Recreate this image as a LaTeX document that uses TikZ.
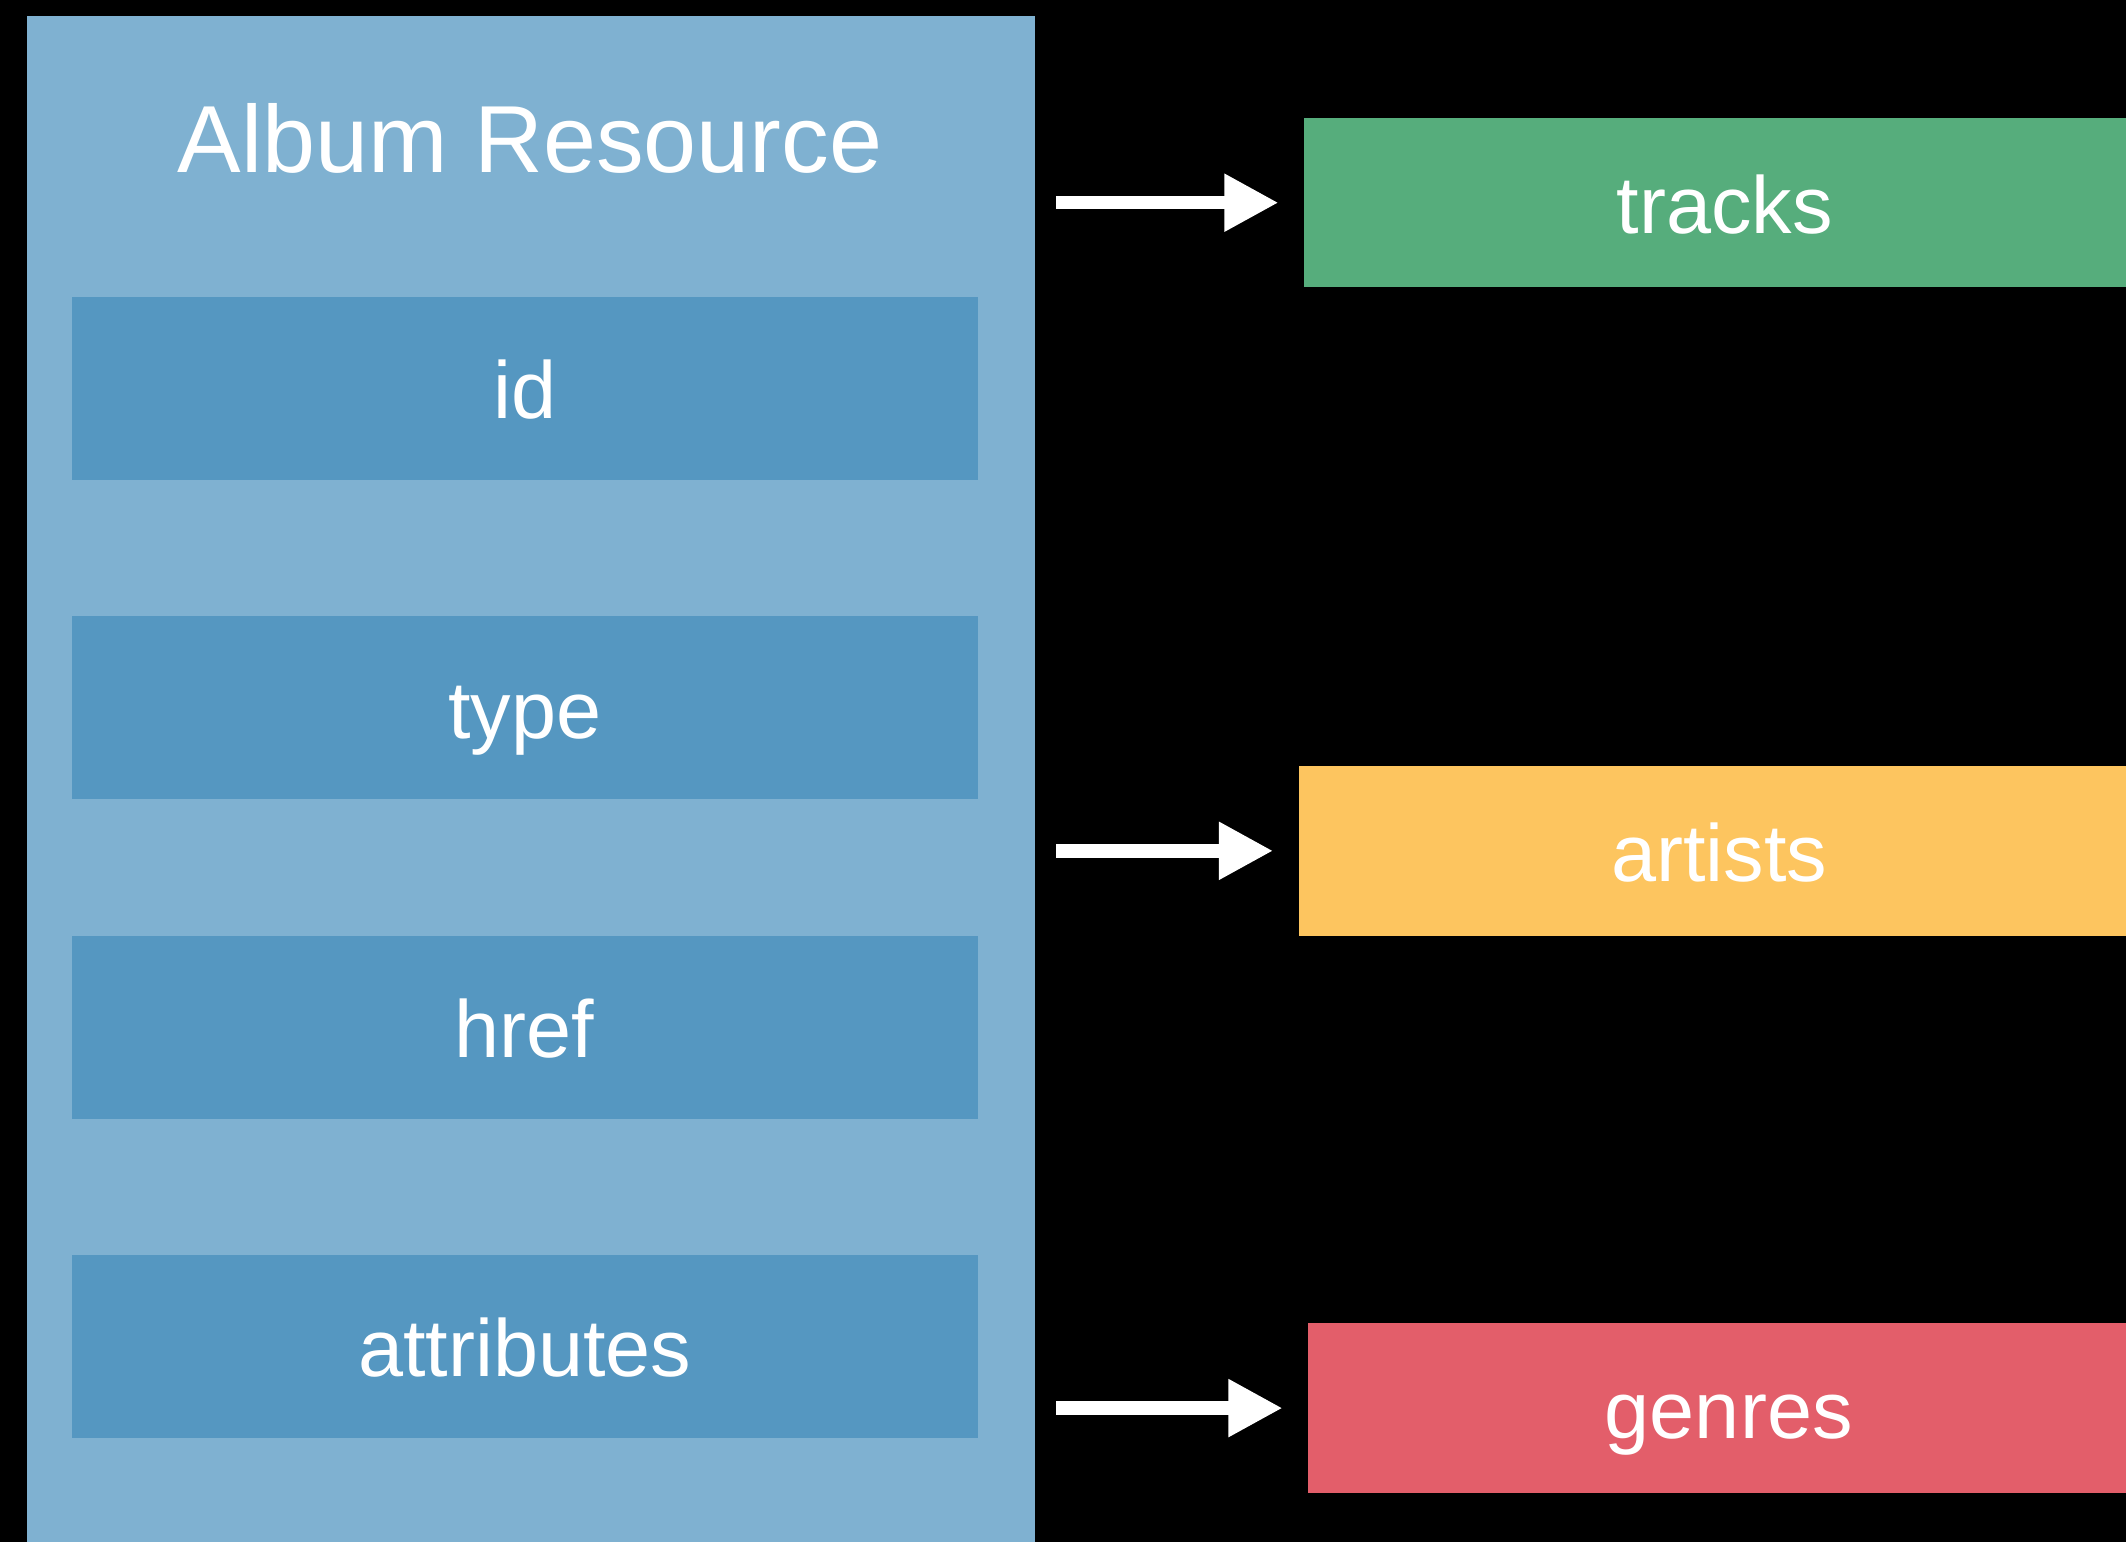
\documentclass[tikz,border=0pt]{standalone}
\usepackage{fontspec}
\setmainfont{Liberation Sans}
\usepackage{tikz}
\usetikzlibrary{arrows.meta,positioning}

\definecolor{panelblue}{RGB}{127,177,209}
\definecolor{fieldblue}{RGB}{85,151,193}
\definecolor{relgreen}{RGB}{86,173,124}
\definecolor{relyellow}{RGB}{253,197,95}
\definecolor{relred}{RGB}{227,94,106}

\begin{document}
\begin{tikzpicture}[
    field/.style={fill=fieldblue,minimum width=6.68cm,minimum height=1.35cm,
                  text height=0.45cm,text depth=0cm,text=white,
                  font=\fontsize{17}{20}\selectfont,inner sep=0pt,outer sep=0pt},
    rel/.style={minimum width=6.2cm,minimum height=1.25cm,anchor=west,
                text height=0.45cm,text depth=0cm,text=white,
                font=\fontsize{17}{20}\selectfont,inner sep=0pt,outer sep=0pt},
    link/.style={white,line width=0.1cm,
                 -{Triangle[length=0.4cm,width=0.4cm]},
                 shorten <=0.16cm,shorten >=0.19cm}
  ]
    \fill[black] (0,0) rectangle (15.68,-11.37);
    \useasboundingbox (0,0) rectangle (15.68,-11.37);
    \node[fill=panelblue,anchor=north west,minimum width=7.43cm,
          minimum height=11.5cm,inner sep=0pt,outer sep=0pt] (album) at (0.20,-0.12) {};
    \node[text=white,anchor=base,font=\fontsize{20}{24}\selectfont]
          (albumtitle) at (3.91,-1.27) {Album Resource};
    \node[field] (id) at (3.87,-2.865) {id};
    \node[field,below=1.005cm of id] (type) {type};
    \node[field,below=1.005cm of type] (href) {href};
    \node[field,below=1.005cm of href] (attributes) {attributes};
    \node[rel,fill=relgreen] (tracks) at (9.62,-1.495) {tracks};
    \node[rel,fill=relyellow] (artists) at (9.58,-6.275) {artists};
    \node[rel,fill=relred] (genres) at (9.65,-10.385) {genres};
    \draw[link] (album.east |- tracks.west) -- (tracks.west);
    \draw[link] (album.east |- artists.west) -- (artists.west);
    \draw[link] (album.east |- genres.west) -- (genres.west);
  \end{tikzpicture}
\end{document}
